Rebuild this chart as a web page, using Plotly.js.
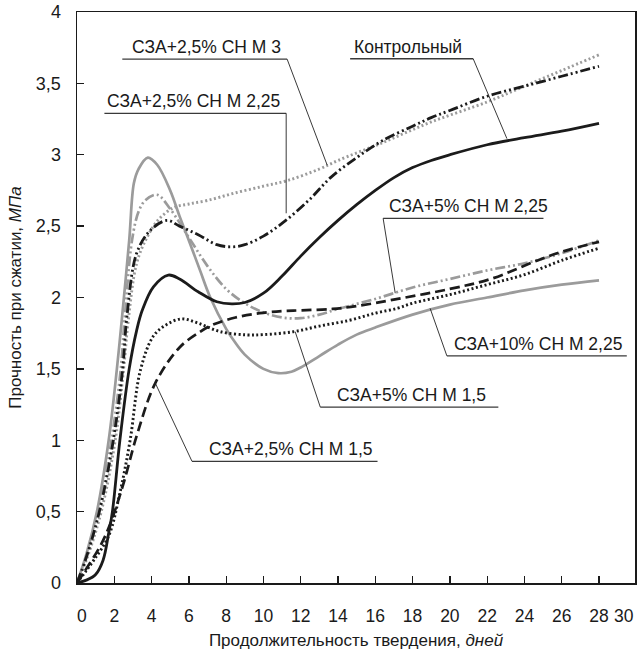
<!DOCTYPE html>
<html>
<head>
<meta charset="utf-8">
<script src="https://cdn.plot.ly/plotly-3.0.1.min.js"></script>
<style>html,body{margin:0;padding:0;background:#fff;}#chart{width:637px;height:650px;}</style>
</head>
<body>
<div id="chart"></div>
<script>
// ---- Data (days, strength MPa) ----
const controlDays   = [0,0.5,1,1.4,1.7,1.9,2.3,2.8,3.2,3.5,4.1,4.9,5.5,6.5,7.5,8.3,9,10,11,12,13,14,15,16,17,18,19,20,22,24,26,28];
const controlVals   = [0,0.02,0.06,0.16,0.35,0.5,1.0,1.5,1.77,1.91,2.075,2.157,2.13,2.04,1.97,1.955,1.965,2.03,2.15,2.29,2.42,2.54,2.65,2.75,2.84,2.91,2.96,3.0,3.07,3.12,3.165,3.22];

const m3Days = [0,0.5,1.2,1.95,2.45,2.68,3.2,3.93,4.83,5.5,6.5,7.5,8.3,9,10,11.2,12.5,13.6,15,16.4,18,19,20,22,24,26,28];
const m3Vals = [0,0.18,0.5,1.0,1.5,1.87,2.31,2.47,2.54,2.5,2.44,2.37,2.355,2.37,2.43,2.54,2.69,2.84,2.98,3.1,3.2,3.26,3.31,3.41,3.48,3.55,3.62];

const s25m225Days = [0,0.5,1.3,2.05,2.5,2.75,3.2,3.75,4.4,5.2,6,7,8.4,10,11.3,13,14,16.3,19,22,24,26,28];
const s25m225Vals = [0,0.16,0.5,1.0,1.5,1.84,2.24,2.42,2.55,2.63,2.655,2.68,2.73,2.78,2.82,2.9,2.96,3.08,3.23,3.37,3.48,3.59,3.70];

const s5m225Days = [0,0.5,1.15,1.85,2.35,2.55,2.95,3.3,3.66,4.29,5,6,7,8,9,10,11,12,13,14,16,18,20,22,24,26,28];
const s5m225Vals = [0,0.18,0.5,1.0,1.5,1.84,2.4,2.6,2.68,2.72,2.62,2.42,2.22,2.06,1.96,1.895,1.86,1.855,1.88,1.92,1.99,2.07,2.13,2.19,2.24,2.31,2.40];

const s10m225Days = [0,0.5,1.07,1.7,2.14,2.4,2.8,3.05,3.3,3.8,4.3,5,5.5,6,6.6,7.15,8,8.4,9,10,10.8,11.5,12,13,14,15,16,18,20,22,24,26,28];
const s10m225Vals = [0,0.2,0.5,1.0,1.5,1.84,2.4,2.8,2.9,2.98,2.93,2.75,2.57,2.4,2.19,2.0,1.78,1.7,1.6,1.5,1.47,1.48,1.51,1.59,1.67,1.74,1.79,1.88,1.95,2.0,2.05,2.09,2.12];

const s5m15Days = [0,0.4,0.9,1.7,2.3,2.85,3.4,4.1,4.8,5.6,6.5,7.7,9.1,10,11.6,13,14.6,16,17.2,18,20,22,24,26,28];
const s5m15Vals = [0,0.07,0.16,0.33,0.63,1.0,1.49,1.73,1.81,1.85,1.82,1.76,1.738,1.74,1.76,1.8,1.84,1.89,1.925,1.96,2.02,2.09,2.16,2.26,2.345];

const s25m15Days = [0,0.45,1.25,1.8,2.5,3.2,4.2,5.5,6.6,7.3,8.5,9.8,11,12,13.7,15,17.2,20,22.2,24.7,26,28];
const s25m15Vals = [0,0.09,0.26,0.42,0.7,1.03,1.4,1.65,1.76,1.81,1.86,1.89,1.905,1.91,1.92,1.94,1.99,2.06,2.13,2.26,2.32,2.39];

const xTickVals = [0,2,4,6,8,10,12,14,16,18,20,22,24,26,28];
const xTickText = ['\u00A0\u00A00','2','4','6','8','10','12','14','16','18','20','22','24','26','28'];
const yTickVals = [0,0.5,1,1.5,2,2.5,3,3.5,4];
const yTickText = ['0','0,5','1','1,5','2','2,5','3','3,5','4'];

const labelTexts = ['СЗА+2,5% СН М 3','СЗА+2,5% СН М 2,25','Контрольный','СЗА+5% СН М 2,25','СЗА+10% СН М 2,25','СЗА+5% СН М 1,5','СЗА+2,5% СН М 1,5'];

// ---- Styles ----
const FONT = 'Liberation Sans, Arial, sans-serif';
const BLACK = '#1b1b1b', GRAY = '#9b9b9b';
function tr(x, y, color, dash, name, w) {
  return {x: x, y: y, type: 'scatter', mode: 'lines', name: name,
    line: {color: color, width: w || 2.7, dash: dash, shape: 'spline', smoothing: 1.0}, hoverinfo: 'skip'};
}
const traces = [
  tr(s10m225Days, s10m225Vals, GRAY, 'solid', labelTexts[4]),
  tr(s25m225Days, s25m225Vals, GRAY, '2px,2.5px', labelTexts[1], 2.9),
  tr(s5m225Days, s5m225Vals, GRAY, '10px,3px,2px,3px,2px,3px', labelTexts[3]),
  tr(s25m15Days, s25m15Vals, BLACK, '10px,5px', labelTexts[6]),
  tr(s5m15Days, s5m15Vals, BLACK, '2px,2.5px', labelTexts[5], 2.9),
  tr(m3Days, m3Vals, BLACK, '10px,3px,2px,3px,2px,3px', labelTexts[0], 2.8),
  tr(controlDays, controlVals, BLACK, 'solid', labelTexts[2], 2.8)
];

// label geometry: [textX, underlineY, ulX0, ulX1, leaderX, leaderY]
const labelGeom = [
  [2.86, 3.67, 2.43, 11.27, 13.42, 2.927],
  [1.48, 3.29, 1.47, 11.22, 11.22, 2.59],
  [14.76, 3.673, 14.65, 21.25, 23.06, 3.113],
  [16.64, 2.554, 16.42, 25.02, 17.07, 2.03],
  [20.1, 1.591, 19.84, 29.49, 18.94, 1.924],
  [13.85, 1.232, 13.05, 22.6, 11.7, 1.761],
  [6.97, 0.852, 6.17, 16.12, 4.2, 1.40]
];
// which end of the underline the leader starts from (1 = right end, 0 = left end)
const leaderFrom = [1, 1, 1, 0, 0, 0, 0];

const annotations = [];
const shapes = [];
labelTexts.forEach((t, i) => {
  const g = labelGeom[i];
  annotations.push({x: g[0], y: g[1], xref: 'x', yref: 'y', text: t, showarrow: false,
    xanchor: 'left', yanchor: 'bottom', yshift: 0,
    font: {family: FONT, size: 17.5, color: '#1a1a1a'}});
  shapes.push({type: 'line', xref: 'x', yref: 'y', x0: g[2], x1: g[3], y0: g[1], y1: g[1],
    line: {color: '#3a3a3a', width: 1.4}});
  const sx = leaderFrom[i] ? g[3] : g[2];
  shapes.push({type: 'line', xref: 'x', yref: 'y', x0: sx, y0: g[1], x1: g[4], y1: g[5],
    line: {color: '#222', width: 0.9}});
});
annotations.push({x: 0.980, y: 0, xref: 'paper', yref: 'paper', yanchor: 'top', xanchor: 'center',
  yshift: -21, text: '30', showarrow: false,
  font: {family: FONT, size: 17.5, color: '#1a1a1a'}});

const layout = {
  width: 637, height: 650,
  margin: {l: 77, r: 2, t: 12, b: 66.5},
  paper_bgcolor: '#fff', plot_bgcolor: '#fff',
  showlegend: false,
  font: {family: FONT, color: '#1a1a1a'},
  xaxis: {
    range: [0, 29.93], tickvals: xTickVals, ticktext: xTickText, ticks: 'inside', ticklen: 7, tickwidth: 1.3, tickcolor: '#1a1a1a',
    showgrid: false, zeroline: false, showline: true, mirror: true, linecolor: '#1a1a1a', linewidth: 1.5,
    tickfont: {size: 17.5}, ticklabelstandoff: 16,
    title: {text: 'Продолжительность твердения, <i>дней</i>', font: {size: 17}, standoff: 10}
  },
  yaxis: {
    range: [0, 4], tickvals: yTickVals, ticktext: yTickText, ticks: 'inside', ticklen: 7, tickwidth: 1.3, tickcolor: '#1a1a1a',
    showgrid: false, zeroline: false, showline: true, mirror: true, linecolor: '#1a1a1a', linewidth: 1.5,
    tickfont: {size: 18}, ticklabelstandoff: 11,
    title: {text: 'Прочность при сжатии, <i>МПа</i>\u00A0\u00A0\u00A0\u00A0\u00A0', font: {size: 17}, standoff: 10}
  },
  annotations: annotations,
  shapes: shapes
};

Plotly.newPlot('chart', traces, layout, {staticPlot: true, displayModeBar: false});
</script>
</body>
</html>
